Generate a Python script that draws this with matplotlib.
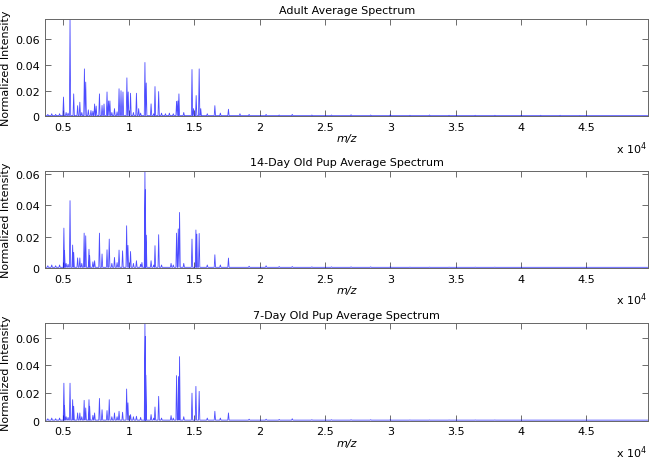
import numpy as np
import matplotlib
matplotlib.use("Agg")
import matplotlib.pyplot as plt
from matplotlib.ticker import FuncFormatter

# major peaks: m/z and normalized intensity
adult_mz = [5000, 5500, 5780, 6080, 6250, 6600, 6700, 6900, 7100, 7380, 7500,
            7750, 7950, 8100, 8330, 8450, 8550, 8900, 9250, 9400, 9550, 9850,
            9950, 10130, 10580, 10750, 11230, 11330, 11700, 12000, 12280,
            12800, 13100, 13650, 13750, 13830, 14830, 14950, 15150, 15380,
            15500, 16580, 17620, 18500]
adult_int = [0.015, 0.076, 0.0175, 0.0083, 0.011, 0.037, 0.0267, 0.005, 0.0045,
             0.0096, 0.008, 0.0175, 0.0085, 0.0096, 0.019, 0.012, 0.012, 0.006,
             0.0215, 0.020, 0.019, 0.030, 0.019, 0.018, 0.018, 0.006, 0.042,
             0.026, 0.0097, 0.0232, 0.0193, 0.002, 0.0025, 0.0117, 0.012,
             0.0175, 0.0365, 0.006, 0.0162, 0.037, 0.006, 0.0083, 0.0055, 0.002]

pup14_mz = [5030, 5080, 5500, 5700, 5780, 6080, 6250, 6580, 6700, 6950, 7000,
            7380, 7750, 7950, 8330, 8500, 8900, 9250, 9520, 9830, 9930, 10130,
            10580, 11000, 11230, 11260, 11330, 11700, 12000, 12280, 13230,
            13650, 13780, 13880, 14830, 15130, 15200, 15380, 16580, 17620]
pup14_int = [0.0255, 0.011, 0.043, 0.0147, 0.010, 0.0065, 0.0065, 0.0223,
             0.0206, 0.012, 0.008, 0.0047, 0.0223, 0.009, 0.0117, 0.0185,
             0.0068, 0.0115, 0.011, 0.027, 0.0145, 0.0106, 0.0047, 0.0036,
             0.062, 0.050, 0.021, 0.0047, 0.0143, 0.0213, 0.003, 0.0223, 0.025,
             0.0355, 0.0185, 0.0243, 0.0217, 0.0221, 0.0085, 0.0064]

pup7_mz = [5030, 5080, 5500, 5700, 5780, 6080, 6250, 6580, 6700, 6950, 7000,
           7380, 7750, 7950, 8330, 8500, 8900, 9250, 9520, 9830, 9930, 10130,
           10580, 11230, 11260, 11300, 11700, 12000, 12280, 13230, 13650,
           13800, 13880, 14830, 15130, 15380, 16580, 17620]
pup7_int = [0.0272, 0.011, 0.0272, 0.0153, 0.0105, 0.0057, 0.0057, 0.0148,
            0.0093, 0.0153, 0.0105, 0.0057, 0.0162, 0.008, 0.0074, 0.0153,
            0.0057, 0.0069, 0.0062, 0.023, 0.013, 0.0045, 0.0033, 0.0705,
            0.061, 0.033, 0.0045, 0.010, 0.0177, 0.0038, 0.0327, 0.032, 0.0464,
            0.020, 0.0249, 0.0213, 0.0069, 0.0057]

# low-level background bumps: shared positions, per-panel heights
minor_mz = [3800, 4100, 4400, 4700, 5200, 5350, 6400, 7250, 8700, 9100, 10350,
            10900, 11900, 12500, 13400, 14200, 16000, 17000, 19200, 20500,
            21500, 22500, 24000, 25500, 27000, 28500, 30000, 31500, 33000,
            34500, 36500, 38000, 40000, 41500, 43000, 44500]
adult_minor = [0.0015, 0.002, 0.0015, 0.002, 0.003, 0.0025, 0.003, 0.004, 0.003,
               0.0035, 0.003, 0.0025, 0.002, 0.0025, 0.002, 0.003, 0.002, 0.0025,
               0.0015, 0.0015, 0.001, 0.0015, 0.001, 0.001, 0.0012, 0.001,
               0.0012, 0.0008, 0.001, 0.0008, 0.0008, 0.0008, 0.0008, 0.0008,
               0.0008, 0.0006]
pup14_minor = [0.0015, 0.002, 0.0015, 0.002, 0.003, 0.0025, 0.003, 0.004, 0.003,
               0.0035, 0.003, 0.0025, 0.002, 0.002, 0.002, 0.003, 0.002, 0.002,
               0.0012, 0.0015, 0.001, 0.001, 0.0008, 0.0008, 0.0008, 0.0008,
               0.0008, 0.0006, 0.0006, 0.0006, 0.0006, 0.0006, 0.0005, 0.0005,
               0.0005, 0.0005]
pup7_minor = [0.0015, 0.002, 0.0015, 0.002, 0.003, 0.0025, 0.003, 0.004, 0.003,
              0.003, 0.003, 0.0025, 0.002, 0.002, 0.002, 0.003, 0.002, 0.002,
              0.0012, 0.0012, 0.001, 0.0015, 0.0008, 0.0008, 0.0008, 0.0008,
              0.0008, 0.0006, 0.0006, 0.0006, 0.0006, 0.0006, 0.0005, 0.0005,
              0.0005, 0.0005]

titles = ["Adult Average Spectrum", "14-Day Old Pup Average Spectrum",
          "7-Day Old Pup Average Spectrum"]
ytops = [0.0761, 0.0622, 0.0705]
mz_range = (3600, 49750)
xticks = [5000, 10000, 15000, 20000, 25000, 30000, 35000, 40000, 45000]
yticks = [0, 0.02, 0.04, 0.06]

panels = [(adult_mz, adult_int, adult_minor),
          (pup14_mz, pup14_int, pup14_minor),
          (pup7_mz, pup7_int, pup7_minor)]

plt.rcParams["font.family"] = "DejaVu Sans"
plt.rcParams["font.size"] = 8

fig = plt.figure(figsize=(6.55, 4.6), dpi=100)
bottoms = [0.745, 0.415, 0.083]
base = 0.0005
half_w = 50

for i, (mz, inten, minor) in enumerate(panels):
    ax = fig.add_axes([0.069, bottoms[i], 0.921, 0.212])
    pk_mz = np.array(list(mz) + minor_mz, dtype=float)
    pk_int = np.array(list(inten) + list(minor), dtype=float)
    order = np.argsort(pk_mz)
    pk_mz, pk_int = pk_mz[order], pk_int[order]
    # stick spectrum drawn as one connected trace
    xs = np.column_stack([pk_mz - half_w, pk_mz, pk_mz + half_w]).ravel()
    ys = np.column_stack([np.full_like(pk_int, base), pk_int,
                          np.full_like(pk_int, base)]).ravel()
    xs = np.concatenate([[mz_range[0]], xs, [mz_range[1]]])
    ys = np.concatenate([[base], ys, [base]])
    ax.plot(xs, ys, color="#0000ff", lw=0.6, alpha=0.7)

    ax.set_xlim(*mz_range)
    ax.set_ylim(0, ytops[i])
    ax.set_xticks(xticks)
    ax.xaxis.set_major_formatter(FuncFormatter(lambda v, p: "%g" % (v / 1e4)))
    ax.set_yticks(yticks)
    ax.yaxis.set_major_formatter(FuncFormatter(lambda v, p: "%g" % v))
    ax.tick_params(direction="in", top=True, right=True, length=4,
                   width=0.6, color="#555555", pad=4)
    for s in ax.spines.values():
        s.set_color("#666666")
        s.set_linewidth(0.7)
    ax.set_title(titles[i], fontsize=8, pad=4)
    ax.set_xlabel("m/z", fontstyle="italic", labelpad=1)
    ax.set_ylabel("Normalized Intensity", labelpad=3)
    ax.annotate(r"x 10$^{4}$", xy=(1.0, 0.0), xycoords="axes fraction",
                xytext=(-2, -31), textcoords="offset pixels",
                ha="right", va="center", fontsize=8)

fig.savefig("out.png", dpi=100)
